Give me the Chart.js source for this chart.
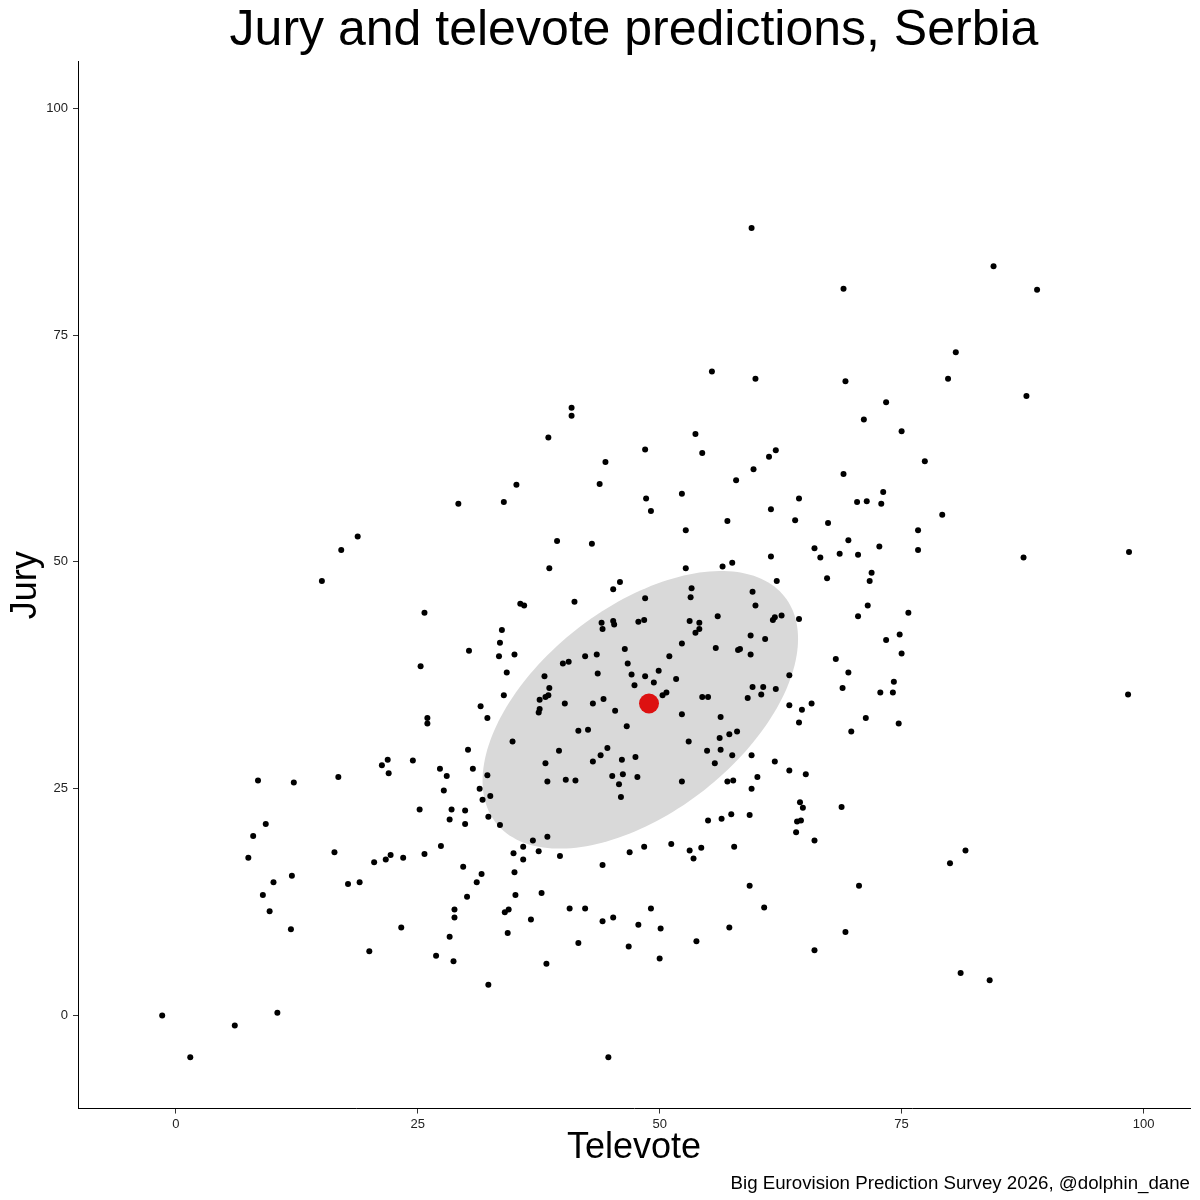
<!DOCTYPE html>
<html>
<head>
<meta charset="utf-8">
<script src="https://cdn.jsdelivr.net/npm/chart.js@4.4.1/dist/chart.umd.min.js"></script>
<style>
  html, body { margin: 0; padding: 0; background: #fff; }
</style>
</head>
<body>
<canvas id="chart" width="1200" height="1200"></canvas>
<script>
// predictions per respondent
const televote = [
  59.5, 84.5, 69.0, 89.0, 80.6, 55.4, 59.9, 79.8, 69.2, 87.9, 73.4, 40.9, 40.9, 71.1, 75.0, 38.5,
  53.7, 48.5, 54.4, 62.0, 61.3, 44.4, 77.4, 59.7, 69.0, 57.9, 43.8, 35.2, 73.1, 52.3, 48.6, 64.4,
  71.4, 70.4, 72.9, 29.2, 33.9, 61.5, 49.1, 79.2, 64.0, 57.0, 67.4, 52.7, 76.7, 18.8, 69.5, 39.4,
  43.0, 72.7, 66.0, 17.1, 76.7, 98.5, 68.6, 70.5, 61.5, 66.6, 87.6, 57.5, 56.5, 52.7, 38.6, 71.9,
  62.1, 15.1, 67.3, 71.7, 45.9, 53.3, 45.2, 59.6, 53.2, 48.5, 41.2, 35.6, 36.0, 59.9, 71.5, 75.7,
  25.7, 56.0, 62.6, 61.9, 61.7, 70.5, 64.4, 48.4, 47.8, 45.2, 45.3, 44.0, 44.1, 53.1, 54.1, 54.1,
  53.7, 33.7, 33.5, 30.3, 33.4, 35.0, 59.4, 60.9, 74.8, 73.4, 52.3, 55.8, 58.1, 58.3, 59.4, 46.4,
  42.3, 43.5, 51.0, 75.0, 68.2, 40.6, 40.0, 25.3, 46.7, 34.2, 38.1, 43.6, 47.1, 48.5, 49.9, 49.4,
  47.4, 51.7, 63.4, 69.5, 59.6, 60.7, 62.0, 60.5, 59.1, 54.4, 55.0, 50.3, 50.7, 33.9, 38.6, 37.6,
  38.2, 38.5, 37.6, 37.5, 40.2, 43.1, 44.2, 45.4, 31.5, 32.2, 52.3, 56.3, 63.4, 64.7, 65.7, 64.4,
  68.9, 74.2, 72.8, 74.1, 71.3, 74.7, 69.8, 98.4, 46.6, 41.6, 42.6, 34.8, 58.0, 57.2, 56.2, 53.0,
  30.2, 39.6, 44.6, 43.9, 43.1, 46.1, 47.5, 54.9, 56.3, 57.5, 55.7, 59.5, 61.9, 38.2, 30.7, 32.2,
  45.1, 46.2, 47.7, 45.8, 46.0, 38.4, 40.3, 41.3, 52.3, 57.0, 57.6, 60.1, 63.4, 65.1, 59.5, 31.4,
  31.7, 32.5, 28.5, 28.3, 29.9, 29.9, 32.3, 33.5, 64.5, 64.8, 64.2, 64.6, 64.1, 66.0, 55.0, 56.4,
  57.4, 59.3, 68.8, 38.4, 36.9, 35.9, 34.9, 35.9, 37.5, 39.7, 29.7, 31.6, 31.1, 35.0, 44.1, 46.9,
  48.4, 51.2, 53.1, 53.5, 54.3, 57.7, 59.3, 81.6, 80.0, 70.6, 8.5, 12.2, 16.8, 21.3, 21.9, 22.0,
  24.5, 27.3, 28.0, 27.7, 26.0, 26.0, 25.2, 9.3, 8.0, 7.5, 16.4, 20.5, 21.7, 22.2, 23.5, 25.7,
  27.4, 10.1, 12.0, 17.8, 19.0, 9.0, 9.7, 11.9, 20.0, 23.3, 26.9, 28.3, -1.4, 1.5, 6.1, 10.5,
  30.1, 28.8, 28.8, 28.7, 35.1, 37.8, 34.0, 34.4, 36.7, 34.3, 40.7, 42.3, 44.1, 45.2, 41.6, 38.3,
  32.3, 47.8, 49.1, 50.1, 46.8, 50.0, 53.8, 57.2, 60.8, 66.0, 44.7, 69.2, 81.1, 84.1
];
const jury = [
  86.8, 82.6, 80.1, 80.0, 73.1, 71.0, 70.2, 70.2, 69.9, 68.3, 67.6, 67.0, 66.1, 65.7, 64.4, 63.7,
  64.1, 62.4, 62.0, 62.3, 61.6, 61.0, 61.1, 60.2, 59.7, 59.0, 58.6, 58.5, 57.7, 57.5, 57.0, 57.0,
  56.7, 56.6, 56.4, 56.4, 56.6, 55.8, 55.6, 55.2, 54.6, 54.5, 54.3, 53.5, 53.5, 52.8, 52.4, 52.3,
  52.0, 51.7, 51.5, 51.3, 51.3, 51.1, 50.9, 50.8, 50.6, 50.5, 50.5, 49.9, 49.5, 49.3, 49.3, 48.8,
  47.9, 47.9, 48.2, 47.9, 47.8, 47.1, 47.0, 46.7, 46.1, 46.0, 45.6, 45.4, 45.2, 45.2, 45.2, 44.4,
  44.4, 44.0, 44.1, 43.9, 43.6, 44.0, 43.7, 43.6, 43.4, 43.5, 43.1, 43.3, 42.6, 43.5, 43.3, 42.6,
  42.2, 42.5, 41.1, 40.2, 39.6, 39.8, 41.9, 41.5, 42.0, 41.4, 41.0, 40.5, 40.3, 40.4, 39.8, 40.4,
  39.6, 39.8, 39.6, 39.9, 39.3, 39.0, 38.8, 38.5, 38.8, 37.8, 37.4, 37.7, 37.6, 37.4, 38.0, 36.7,
  36.4, 37.1, 37.5, 37.8, 36.2, 36.2, 36.0, 35.4, 35.0, 35.1, 35.1, 35.3, 35.6, 35.3, 36.1, 34.8,
  35.1, 35.3, 33.8, 33.4, 34.4, 34.4, 34.9, 33.6, 34.1, 32.8, 33.2, 32.9, 34.2, 33.7, 34.4, 32.3,
  36.1, 36.8, 35.6, 35.6, 32.8, 32.2, 31.3, 35.4, 31.9, 31.4, 31.5, 30.2, 31.3, 31.0, 30.6, 30.2,
  29.3, 29.2, 29.5, 28.7, 28.0, 28.2, 28.5, 29.2, 29.3, 28.7, 27.8, 28.7, 28.0, 27.8, 27.2, 26.5,
  26.4, 26.6, 26.3, 25.5, 24.1, 25.8, 26.0, 25.9, 25.8, 25.8, 25.9, 26.3, 27.0, 26.6, 25.0, 25.0,
  23.8, 24.2, 22.7, 21.6, 22.6, 21.1, 21.9, 21.0, 23.5, 22.9, 21.4, 21.5, 20.2, 19.3, 21.5, 21.7,
  22.2, 22.1, 23.0, 19.7, 19.3, 18.6, 17.9, 17.2, 18.1, 17.6, 16.4, 15.6, 14.7, 15.8, 16.6, 18.0,
  18.6, 18.9, 18.2, 17.3, 18.5, 18.6, 14.3, 18.2, 16.8, 14.3, 25.9, 25.7, 26.3, 27.6, 28.2, 26.7,
  28.1, 27.2, 26.4, 24.8, 32.8, 32.2, 22.7, 21.1, 19.8, 17.4, 18.0, 16.9, 17.2, 17.7, 17.4, 17.8,
  18.7, 14.7, 15.4, 14.5, 14.7, 13.3, 11.5, 9.5, 7.1, 9.7, 6.6, 8.7, 0.0, -4.6, -1.1, 0.3,
  13.1, 11.7, 10.8, 6.0, 13.3, 13.5, 11.4, 11.7, 10.6, 9.1, 11.8, 11.8, 10.4, 10.8, 8.0, 5.7,
  3.4, 10.0, 11.8, 9.6, 7.6, 6.3, 8.2, 9.7, 11.9, 7.2, -4.6, 9.2, 4.7, 3.9
];

// the highlighted red point
const meanTelevote = [48.9];
const meanJury = [34.4];

// grey ellipse: centre, half-extents along x / y and covariance term (data units)
const ellipseCenter = [48.0, 33.7];
const ellipseSpread = [16.3, 15.3];
const ellipseCov = 127.6;

const tickValues = [0, 25, 50, 75, 100];

const FONT = "'Liberation Sans', Arial, Helvetica, sans-serif";

const ellipsePlugin = {
  id: 'ellipse',
  beforeDatasetsDraw(chart) {
    const { ctx, scales: { x, y } } = chart;
    const l11 = ellipseSpread[0];
    const l21 = ellipseCov / l11;
    const l22 = Math.sqrt(ellipseSpread[1] * ellipseSpread[1] - l21 * l21);
    ctx.save();
    ctx.beginPath();
    for (let i = 0; i <= 180; i++) {
      const t = (i / 180) * Math.PI * 2;
      const vx = ellipseCenter[0] + l11 * Math.cos(t);
      const vy = ellipseCenter[1] + l21 * Math.cos(t) + l22 * Math.sin(t);
      const px = x.getPixelForValue(vx);
      const py = y.getPixelForValue(vy);
      if (i === 0) ctx.moveTo(px, py); else ctx.lineTo(px, py);
    }
    ctx.closePath();
    ctx.fillStyle = '#d9d9d9';
    ctx.fill();
    ctx.restore();
  }
};

const axisCommon = {
  type: 'linear',
  afterBuildTicks: (scale) => { scale.ticks = tickValues.map(v => ({ value: v })); },
  grid: { drawOnChartArea: false, drawTicks: true, tickLength: 5, tickColor: '#333333', tickWidth: 1 },
  border: { display: true, color: '#000000', width: 1 },
};

new Chart(document.getElementById('chart'), {
  type: 'scatter',
  data: {
    datasets: [
      {
        data: televote.map((v, i) => ({ x: v, y: jury[i] })),
        pointRadius: 3,
        pointHoverRadius: 3,
        backgroundColor: '#000000',
        borderWidth: 0,
      },
      {
        data: meanTelevote.map((v, i) => ({ x: v, y: meanJury[i] })),
        pointRadius: 10,
        pointHoverRadius: 10,
        backgroundColor: '#dd1111',
        borderWidth: 0,
      },
    ],
  },
  options: {
    responsive: false,
    animation: false,
    devicePixelRatio: 1,
    layout: { padding: { left: 0, right: 10, top: 0, bottom: 0 } },
    plugins: {
      legend: { display: false },
      tooltip: { enabled: false },
      title: {
        display: true,
        fullSize: false,
        text: 'Jury and televote predictions, Serbia',
        color: '#000000',
        font: { family: FONT, size: 50, weight: 'normal', lineHeight: 1.15 },
        padding: { top: 2, bottom: 2.5 },
      },
      subtitle: {
        display: true,
        position: 'bottom',
        align: 'end',
        text: 'Big Eurovision Prediction Survey 2026, @dolphin_dane',
        color: '#000000',
        font: { family: FONT, size: 18.7, weight: 'normal', lineHeight: 1.2 },
        padding: { top: 0, bottom: 5 },
      },
    },
    scales: {
      x: {
        ...axisCommon,
        min: -10.1,
        max: 104.8,
        afterFit: (scale) => { scale.height = 64; },
        ticks: { color: '#222222', font: { family: FONT, size: 13 }, padding: 3, maxRotation: 0 },
        title: {
          display: true,
          text: 'Televote',
          color: '#000000',
          font: { family: FONT, size: 36, weight: 'normal' },
          padding: { top: 0, bottom: 3 },
        },
      },
      y: {
        ...axisCommon,
        min: -10.25,
        max: 105.1,
        afterFit: (scale) => { scale.width = 78; },
        ticks: { color: '#222222', font: { family: FONT, size: 13 }, padding: 5 },
        title: {
          display: true,
          text: 'Jury',
          color: '#000000',
          font: { family: FONT, size: 36, weight: 'normal' },
          padding: { top: 4, bottom: 0 },
        },
      },
    },
  },
  plugins: [ellipsePlugin],
});
</script>
</body>
</html>
